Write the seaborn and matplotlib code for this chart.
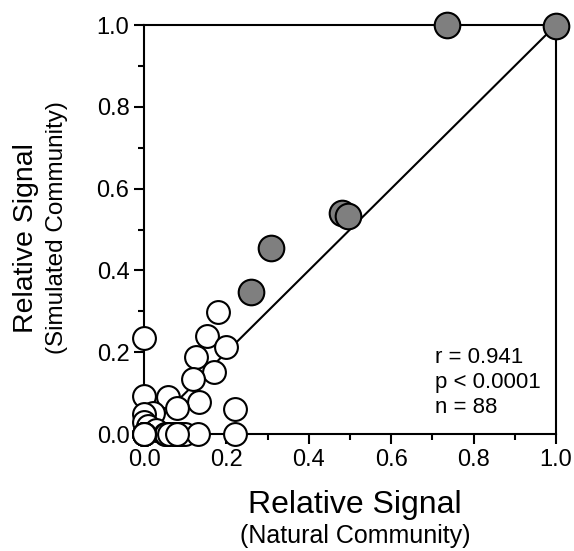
import numpy as np
import pandas as pd
import matplotlib
matplotlib.use("Agg")
import matplotlib.pyplot as plt
import seaborn as sns
from matplotlib.ticker import MultipleLocator, FormatStrFormatter

# natural (x) vs simulated (y) relative signal
white_x = [0.18, 0.0, 0.153, 0.20, 0.125, 0.17, 0.12, 0.0, 0.058, 0.133,
           0.22, 0.08, 0.022, 0.0, 0.0, 0.01, 0.03,
           0.0, 0.0, 0.05, 0.053, 0.07, 0.078, 0.085, 0.09, 0.1, 0.13, 0.22,
           0.0, 0.0, 0.0, 0.06, 0.08]
white_y = [0.298, 0.235, 0.24, 0.213, 0.188, 0.152, 0.135, 0.092, 0.09, 0.079,
           0.062, 0.064, 0.052, 0.048, 0.03, 0.02, 0.01,
           0.0, 0.0, 0.0, 0.0, 0.0, 0.0, 0.0, 0.0, 0.0, 0.0, 0.0,
           0.0, 0.0, 0.0, 0.0, 0.0]

gray_x = [1.0, 0.735, 0.48, 0.495, 0.308, 0.26]
gray_y = [0.997, 1.0, 0.54, 0.533, 0.455, 0.347]

stats_lines = ["r = 0.941", "p < 0.0001", "n = 88"]

sns.set_style("ticks")
plt.rcParams["font.family"] = ["Liberation Sans", "DejaVu Sans"]
plt.rcParams["text.color"] = "black"

fig = plt.figure(figsize=(5.74, 5.51), dpi=100)
ax = fig.add_axes([0.2509, 0.2123, 0.7177, 0.7423])

ax.plot([0, 1], [0, 1], color="black", lw=1.5, zorder=1)

white = pd.DataFrame({"x": white_x, "y": white_y})
gray = pd.DataFrame({"x": gray_x, "y": gray_y})
sns.scatterplot(data=white, x="x", y="y", ax=ax, s=270, color="white",
                edgecolor="black", linewidth=1.5, zorder=3, clip_on=False)
sns.scatterplot(data=gray, x="x", y="y", ax=ax, s=340, color="#7f7f7f",
                edgecolor="black", linewidth=1.5, zorder=4, clip_on=False)

ax.set_xlim(0, 1)
ax.set_ylim(0, 1)
for axis in (ax.xaxis, ax.yaxis):
    axis.set_major_locator(MultipleLocator(0.2))
    axis.set_minor_locator(MultipleLocator(0.1))
    axis.set_major_formatter(FormatStrFormatter("%.1f"))
ax.tick_params(which="major", direction="out", length=7, width=1.5,
               labelsize=17, pad=3.5, color="black", labelcolor="black")
ax.tick_params(which="minor", direction="out", length=4.5, width=1.5,
               color="black")
for sp in ax.spines.values():
    sp.set_linewidth(1.5)
    sp.set_color("black")
    sp.set_visible(True)
ax.set_xlabel("")
ax.set_ylabel("")

for yy, txt in zip([0.188, 0.127, 0.064], stats_lines):
    ax.text(0.706, yy, txt, fontsize=16, ha="left", va="center",
            color="black")

# axis titles placed by hand, two sizes each
fig.text(355 / 574, 1 - 513 / 551, "Relative Signal", fontsize=23,
         ha="center", va="baseline", color="black")
fig.text(355 / 574, 1 - 543 / 551, "(Natural Community)", fontsize=18,
         ha="center", va="baseline", color="black")
fig.text(33 / 574, 1 - 238 / 551, "Relative Signal", fontsize=20.5,
         ha="center", va="baseline", rotation=90, rotation_mode="anchor",
         color="black")
fig.text(63 / 574, 1 - 228 / 551, "(Simulated Community)", fontsize=17.5,
         ha="center", va="baseline", rotation=90, rotation_mode="anchor",
         color="black")

fig.savefig("out.png", dpi=100)
